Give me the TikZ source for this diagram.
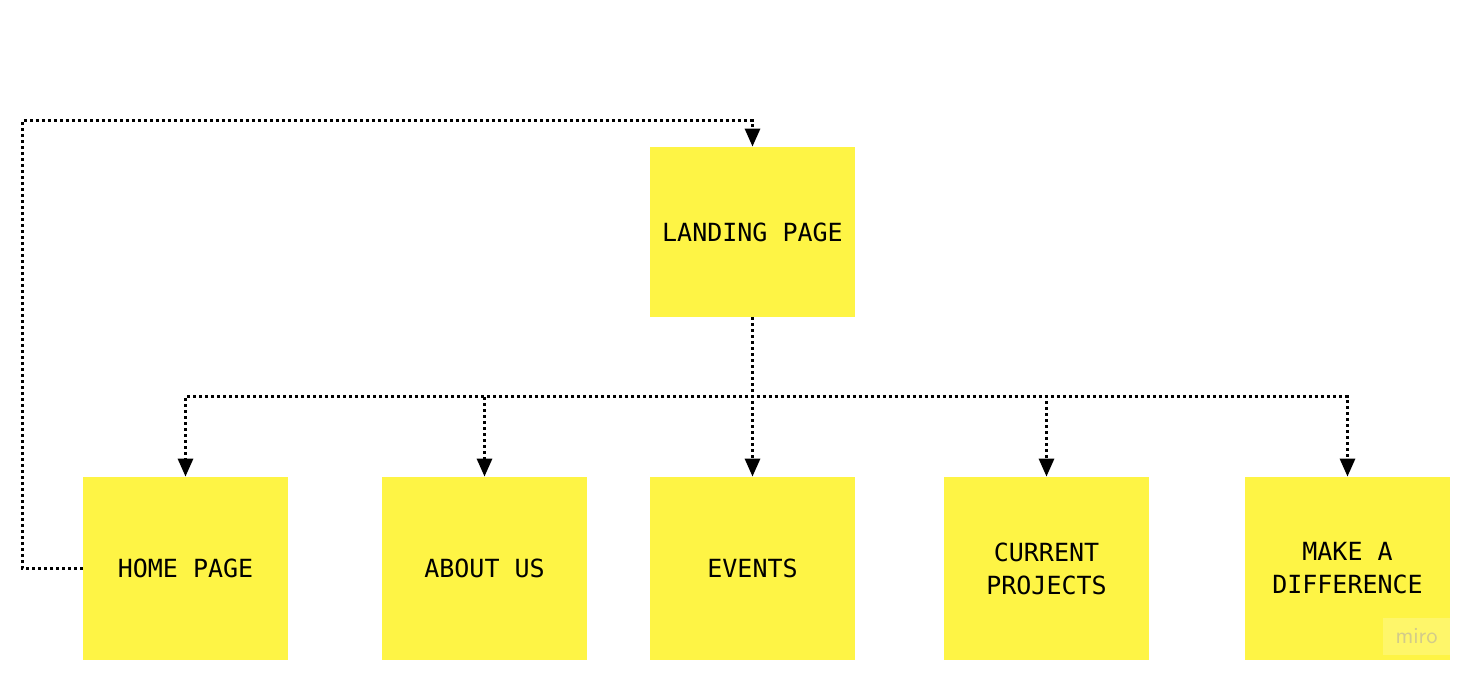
\documentclass[tikz,border=0pt]{standalone}
\usepackage{fontspec}
\setmonofont{DejaVu Sans Mono}
\usepackage{xcolor}
\usetikzlibrary{arrows.meta}
\definecolor{sticky}{HTML}{FEF445}
\definecolor{mark}{HTML}{D2CB8A}

\begin{document}
\begin{tikzpicture}[x=0.5pt, y=-0.5pt,
        every node/.style={rectangle, fill=sticky, inner sep=0pt,
        minimum width=102.5pt, align=center,
        font=\ttfamily\fontsize{12.5}{16.5}\selectfont},
        link/.style={line width=1.5pt, dash pattern=on 1.5pt off 1.5pt,
        -{Triangle[length=9pt, width=7.5pt]}}]
        \useasboundingbox (0,0) rectangle (1473,678);
        \node[minimum height=85pt] (landing) at (752.5, 232) {LANDING PAGE};
        \node[minimum height=91.5pt] (home) at (185.5, 568.5) {HOME PAGE};
        \node[minimum height=91.5pt] (about) at (484.5, 568.5) {ABOUT US};
        \node[minimum height=91.5pt] (events) at (752.5, 568.5) {EVENTS};
        \node[minimum height=91.5pt] (projects) at (1046.5, 568.5) {CURRENT\\PROJECTS};
        \node[minimum height=91.5pt] (difference) at (1347.5, 568.5) {MAKE A\\DIFFERENCE};
        \node[minimum width=33.5pt, minimum height=18.5pt, fill=white,
            fill opacity=0.2, text opacity=1, text=mark,
            font=\sffamily\fontsize{11.5}{11.5}\selectfont]
            (miro) at (1416.5, 636.5) {miro};

        \coordinate (split) at (752.5, 397);
        \coordinate (loop) at (22, 121);

        \draw[link] (landing.south) -- (split) -| (home.north);
        \draw[link] (landing.south) -- (split) -| (about.north);
        \draw[link] (landing.south) -- (events.north);
        \draw[link] (landing.south) -- (split) -| (projects.north);
        \draw[link] (landing.south) -- (split) -| (difference.north);
        \draw[link] (home.west) -| (loop) -| (landing.north);
    \end{tikzpicture}
\end{document}
